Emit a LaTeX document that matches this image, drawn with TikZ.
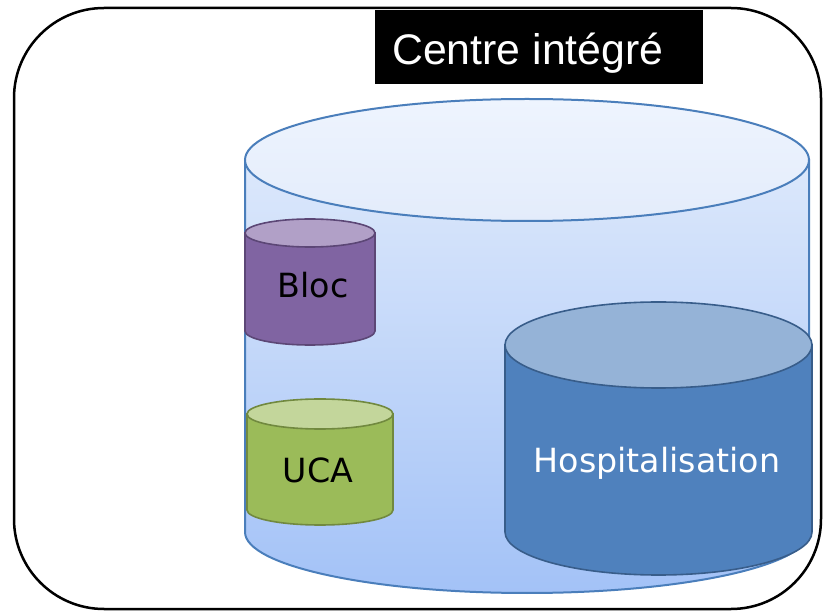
\documentclass[tikz,border=0pt]{standalone}
\usepackage{fontspec}
\setmainfont{DejaVu Sans}
\newfontfamily\titlefont{Liberation Sans}
\definecolor{bigborder}{HTML}{4A7EBB}
\definecolor{bigtop}{HTML}{EEF4FE}
\definecolor{bigtopb}{HTML}{E3ECFB}
\definecolor{bigbody}{HTML}{DCE8FB}
\definecolor{bigbottom}{HTML}{A3C2F7}
\definecolor{purpbody}{HTML}{8064A2}
\definecolor{purptop}{HTML}{B1A0C7}
\definecolor{purpline}{HTML}{5C4776}
\definecolor{grnbody}{HTML}{9BBB59}
\definecolor{grntop}{HTML}{C3D69B}
\definecolor{grnline}{HTML}{71893F}
\definecolor{bluebody}{HTML}{4F81BD}
\definecolor{bluetop}{HTML}{95B3D7}
\definecolor{blueline}{HTML}{385D8A}
\tikzset{
  frame/.style={draw=black, line width=2.5pt, rounded corners=90pt},
  titlebox/.style={fill=black, inner sep=0pt, minimum width=328pt, minimum height=74pt, anchor=north west},
  titletext/.style={text=white, font=\titlefont\fontsize{42.8}{50}\selectfont, anchor=base west, inner sep=0pt},
  cyltext/.style={font=\fontsize{33.3}{40}\selectfont, anchor=base, inner sep=0pt},
}
\begin{document}
\begin{tikzpicture}[x=1pt,y=-1pt]
\useasboundingbox (0,0) rectangle (823,612);
% outer frame
\draw[frame] (14,8) rectangle (821,609);
% title
\node[titlebox] (title) at (375,10) {};
\node[titletext] (titlelabel) at (392,65) {Centre intégré};
% big cylinder
\shade[top color=bigbody, bottom color=bigbottom, draw=bigborder, line width=2pt]
  (245,160) -- (245,532) arc[start angle=180, end angle=360, x radius=282pt, y radius=61pt] -- (809,160) -- cycle;
\shade[top color=bigtop, bottom color=bigtopb, draw=bigborder, line width=2pt]
  (527,160) ellipse[x radius=282pt, y radius=61pt];
% Bloc
\filldraw[fill=purpbody, draw=purpline, line width=1.6pt]
  (245,233) -- (245,331) arc[start angle=180, end angle=360, x radius=65pt, y radius=14pt] -- (375,233) -- cycle;
\filldraw[fill=purptop, draw=purpline, line width=1.6pt]
  (310,233) ellipse[x radius=65pt, y radius=14pt];
\node[cyltext, text=black] (bloc) at (313,298) {Bloc};
% UCA
\filldraw[fill=grnbody, draw=grnline, line width=1.6pt]
  (247,414) -- (247,510) arc[start angle=180, end angle=360, x radius=73pt, y radius=15pt] -- (393,414) -- cycle;
\filldraw[fill=grntop, draw=grnline, line width=1.6pt]
  (320,414) ellipse[x radius=73pt, y radius=15pt];
\node[cyltext, text=black] (uca) at (318,483) {UCA};
% Hospitalisation
\filldraw[fill=bluebody, draw=blueline, line width=1.6pt]
  (505,345) -- (505,532) arc[start angle=180, end angle=360, x radius=153.5pt, y radius=43pt] -- (812,345) -- cycle;
\filldraw[fill=bluetop, draw=blueline, line width=1.6pt]
  (658.5,345) ellipse[x radius=153.5pt, y radius=43pt];
\node[cyltext, text=white] (hosp) at (657,473) {Hospitalisation};
\end{tikzpicture}
\end{document}
